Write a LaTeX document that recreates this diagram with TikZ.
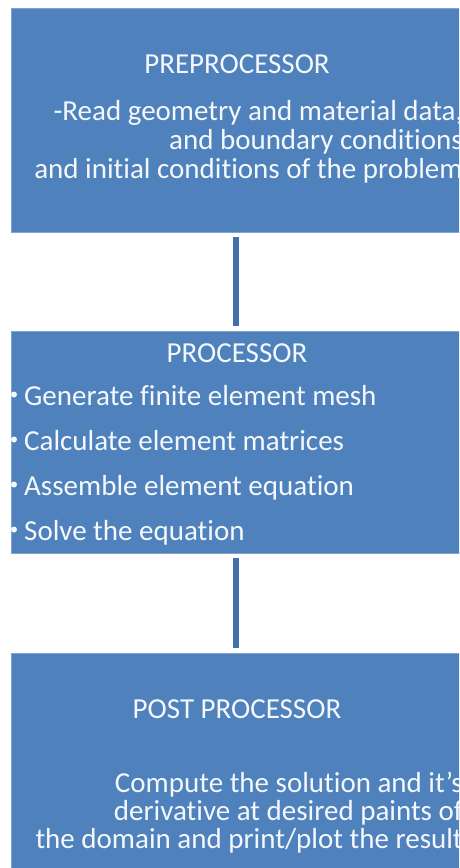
\documentclass[tikz,border=0pt]{standalone}
\usepackage{fontspec}
\setmainfont{Carlito}[Ligatures=NoCommon]
\definecolor{boxblue}{HTML}{4F81BD}
\definecolor{edgeblue}{HTML}{7FA3D3}
\definecolor{linkblue}{HTML}{4171AA}
\definecolor{txtwhite}{HTML}{F4F8FC}
\begin{document}
\begin{tikzpicture}[x=1pt,y=-1pt,
  box/.style={draw=edgeblue,line width=1pt,fill=boxblue,minimum width=450pt,inner sep=0pt,anchor=north},
  txt/.style={text=txtwhite,font=\fontsize{29}{29}\selectfont,inner sep=0pt},
  link/.style={draw=linkblue,line width=6pt,shorten >=5pt,shorten <=4pt},
  dot/.style={circle,fill=txtwhite,inner sep=0pt,minimum size=6pt}]
\useasboundingbox (0,0) rectangle (459,868);
\clip (0,0) rectangle (459,868);
\fill[white] (0,0) rectangle (459,868);
% boxes
\node[box,minimum height=224pt] (pre) at (236,8) {};
\node[box,minimum height=222pt] (proc) at (236,331) {};
\node[box,minimum height=224pt] (post) at (236,653) {};
% connectors
\draw[link] (pre.south) -- (proc.north);
\draw[link] (proc.south) -- (post.north);
% preprocessor text
\node[txt,anchor=base] (preh) at (237,73) {PREPROCESSOR};
\node[txt,anchor=base east] (pre1) at (463,120) {-Read geometry and material data,};
\node[txt,anchor=base east] (pre2) at (463,149) {and boundary conditions};
\node[txt,anchor=base east] (pre3) at (463,178) {and initial conditions of the problem};
% processor text
\node[txt,anchor=base] (proch) at (237,362) {PROCESSOR};
\node[txt,anchor=base west] (p1) at (24,405) {Generate finite element mesh};
\node[txt,anchor=base west] (p2) at (24,450) {Calculate element matrices};
\node[txt,anchor=base west] (p3) at (24,495) {Assemble element equation};
\node[txt,anchor=base west] (p4) at (24,540) {Solve the equation};
\node[dot] (d1) at (14,394.5) {};
\node[dot] (d2) at (14,439.5) {};
\node[dot] (d3) at (14,484.5) {};
\node[dot] (d4) at (14,529.5) {};
% post processor text
\node[txt,anchor=base] (posth) at (237,718) {POST PROCESSOR};
\node[txt,anchor=base east] (post1) at (463,792) {Compute the solution and it’s};
\node[txt,anchor=base east] (post2) at (463,820) {derivative at desired paints of};
\node[txt,anchor=base east] (post3) at (463,848) {the domain and print/plot the result};
\end{tikzpicture}
\end{document}
